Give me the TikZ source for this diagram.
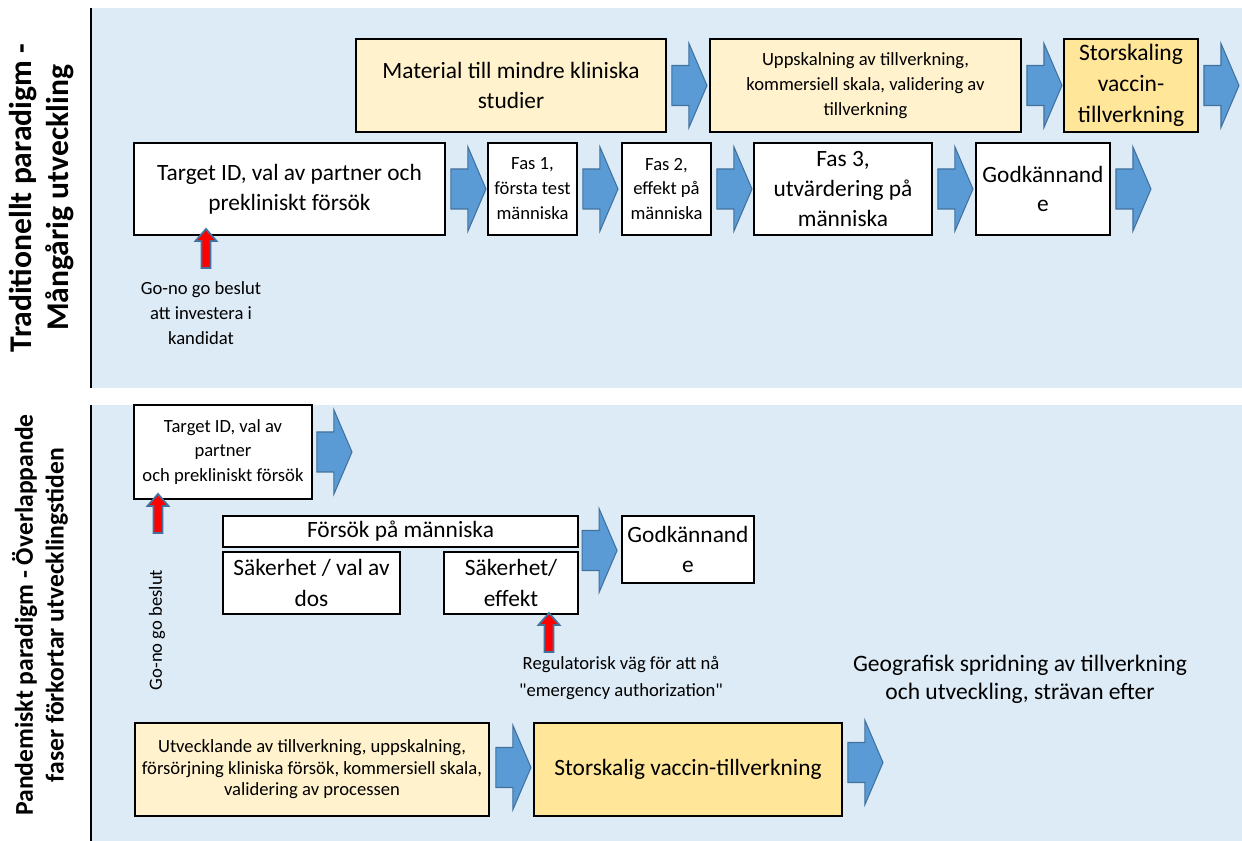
\documentclass[tikz,border=0pt]{standalone}
\usepackage{fontspec}
\setmainfont{Carlito}
\usetikzlibrary{calc}

\definecolor{panelblue}{HTML}{DDEBF7}
\definecolor{lightyel}{HTML}{FFF2CC}
\definecolor{darkyel}{HTML}{FFE699}
\definecolor{arrowblue}{HTML}{5B9BD5}
\definecolor{arrowedge}{HTML}{41719C}

\tikzset{
  box/.style={draw=black, line width=1.1pt, fill=white, align=center, inner sep=2pt},
  sz/.style 2 args={minimum width=#1*0.02cm, minimum height=#2*0.02cm},
  bigtext/.style={font=\fontsize{13.3}{17}\selectfont},
  smalltext/.style={font=\fontsize{10.6}{14.2}\selectfont},
  blockarrow/.pic={
    \draw[fill=arrowblue, draw=arrowedge, line width=0.6pt]
      (0,-20) -- (17,-20) -- (17,-42) -- (35,0) -- (17,42) -- (17,20) -- (0,20) -- cycle;
  },
  redarrow/.pic={
    \draw[fill=red, draw=arrowedge, line width=1pt]
      (0,0) -- (10.5,12) -- (4.5,12) -- (4.5,39) -- (-4.5,39) -- (-4.5,12) -- (-10.5,12) -- cycle;
  },
}

\begin{document}
\begin{tikzpicture}[x=0.02cm, y=-0.02cm]
\useasboundingbox (0,0) rectangle (1242,841);

% traditionellt paradigm
\fill[panelblue] (92,8) rectangle (1242,388);
\draw[line width=1pt] (91,8) -- (91,388);
\node[rotate=90, align=center, font=\bfseries\fontsize{18}{21}\selectfont] (lab1) at (42,198)
  {Traditionellt paradigm -\\Mångårig utveckling};

\node[box, fill=lightyel, bigtext, sz={310}{93}] (mat) at (511,85.5) {Material till mindre kliniska\\studier};
\node[box, fill=lightyel, smalltext, sz={311}{93}] (upp) at (865.5,85.5)
  {Uppskalning av tillverkning,\\kommersiell skala, validering av\\tillverkning};
\node[box, fill=darkyel, font=\fontsize{13.4}{17.6}\selectfont, sz={134}{93}] (stor) at (1131,85.5)
  {Storskaling\\vaccin-\\tillverkning};
\pic at ($(mat.east)+(5,0)$) {blockarrow};
\pic at ($(upp.east)+(5,0)$) {blockarrow};
\pic at ($(stor.east)+(5,0)$) {blockarrow};

\node[box, bigtext, sz={311}{92}] (tid) at (289.5,189) {Target ID, val av partner och\\prekliniskt försök};
\node[box, smalltext, sz={89}{92}] (fas1) at (532.5,189) {Fas 1,\\första test\\människa};
\node[box, smalltext, sz={89}{92}] (fas2) at (666.5,189) {Fas 2,\\effekt på\\människa};
\node[box, bigtext, sz={178}{92}] (fas3) at (843,189) {Fas 3,\\utvärdering på\\människa};
\node[box, bigtext, sz={134}{92}] (godk) at (1043,189) {Godkännand\\e};
\foreach \b in {tid,fas1,fas2,fas3,godk}
  \pic at ($(\b.east)+(5,0)$) {blockarrow};

\pic at (206,229) {redarrow};
\node[smalltext, align=center] (beslut) at (201,313) {Go-no go beslut\\att investera i\\kandidat};

% pandemiskt paradigm
\fill[panelblue] (92,405) rectangle (1242,841);
\draw[line width=1pt] (91,405) -- (91,841);
\node[rotate=90, align=center, font=\bfseries\fontsize{14.6}{17.6}\selectfont] (lab2) at (40,615)
  {Pandemiskt paradigm - Överlappande\\faser förkortar utvecklingstiden};

\node[box, smalltext, sz={178}{94}] (ptid) at (223,452) {Target ID, val av\\partner\\och prekliniskt försök};
\pic at ($(ptid.east)+(4,0)$) {blockarrow};

\node[box, bigtext, sz={355}{31}] (pfors) at (400.5,531.5) {Försök på människa};
\node[box, font=\fontsize{13.3}{17.6}\selectfont, sz={177}{62}] (psak) at (311.5,583) {Säkerhet / val av\\dos};
\node[box, font=\fontsize{13.3}{17.6}\selectfont, sz={134}{62}] (pseff) at (511,583) {Säkerhet/\\effekt};
\node[box, bigtext, sz={132}{67}] (pgodk) at (688,549.5) {Godkännand\\e};
\pic at ($(pgodk.west)+(-39,1)$) {blockarrow};

\pic at (158,494) {redarrow};
\node[smalltext, rotate=90] (gonogo) at (157,630) {Go-no go beslut};
\pic at (549,613) {redarrow};
\node[font=\fontsize{10.6}{15.3}\selectfont, align=center] (reg) at (621,678)
  {Regulatorisk väg för att nå\\\textquotedbl emergency authorization\textquotedbl};
\node[font=\fontsize{13.4}{15.9}\selectfont, align=center] (geo) at (1020,679)
  {Geografisk spridning av tillverkning\\och utveckling, strävan efter};

\node[box, fill=lightyel, font=\fontsize{10.6}{12.2}\selectfont, inner sep=1pt, sz={354}{93}] (putv) at (312,769.5)
  {Utvecklande av tillverkning, uppskalning,\\försörjning kliniska försök, kommersiell skala,\\validering av processen};
\node[box, fill=darkyel, bigtext, sz={308}{93}] (pstor) at (688,769.5) {Storskalig vaccin-tillverkning};
\pic at ($(putv.east)+(6,-2)$) {blockarrow};
\pic at ($(pstor.east)+(5,-7)$) {blockarrow};
\end{tikzpicture}
\end{document}
